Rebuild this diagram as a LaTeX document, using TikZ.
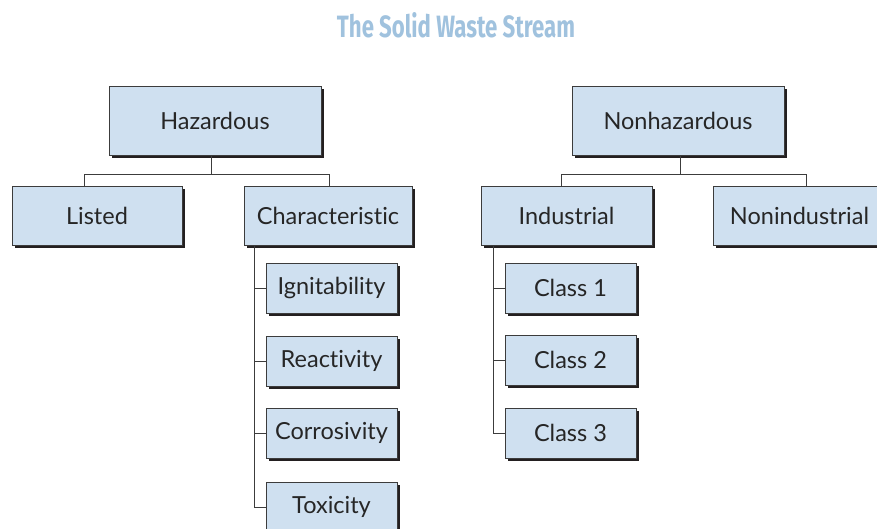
\documentclass[tikz,border=0pt]{standalone}
\usepackage{fontspec}
\usepackage{graphicx}
\setmainfont{Lato}[Ligatures=NoCommon]
\newfontfamily\titlefont{Fira Sans}
\usetikzlibrary{shadows}
\definecolor{boxfill}{RGB}{207,224,240}
\definecolor{titleblue}{RGB}{160,194,222}
\definecolor{shadowc}{RGB}{35,31,32}
\definecolor{linec}{RGB}{60,60,60}
\tikzset{
  box/.style={draw=linec, line width=0.7pt, fill=boxfill, inner sep=0pt,
    font=\fontsize{23.5}{28}\selectfont, text=black!85,
    drop shadow={shadow xshift=3pt, shadow yshift=-3pt, fill=shadowc, opacity=1}},
  bigbox/.style={box, minimum height=69pt},
  midbox/.style={box, minimum height=59pt},
  smallbox/.style={box, minimum width=131pt, minimum height=50pt},
  conn/.style={draw=linec, line width=0.8pt}
}
\begin{document}
\begin{tikzpicture}[x=1pt,y=1pt]
\clip (0,0) rectangle (877,-529);
\fill[white] (0,0) rectangle (877,-529);
\node[text=titleblue, anchor=base] (title) at (456,-38) {\resizebox{238pt}{25pt}{\titlefont\bfseries The Solid Waste Stream}};
% top level
\node[bigbox, minimum width=212pt] (haz) at (215,-120.5) {Hazardous};
\node[bigbox, minimum width=212pt] (nonhaz) at (678,-120.5) {Nonhazardous};
% second level
\node[midbox, minimum width=170pt] (listed) at (97,-215.5) {Listed};
\node[midbox, minimum width=168pt] (char) at (328,-215.5) {Characteristic};
\node[midbox, minimum width=171pt] (ind) at (566.5,-215.5) {Industrial};
\node[midbox, minimum width=186pt] (nonind) at (806,-215.5) {\hspace*{-13pt}Nonindustrial};
% characteristic children
\node[smallbox] (ign) at (331.5,-288) {Ignitability};
\node[smallbox] (rea) at (331.5,-361) {Reactivity};
\node[smallbox] (cor) at (331.5,-433) {Corrosivity};
\node[smallbox] (tox) at (331.5,-507) {Toxicity};
% industrial children
\node[smallbox] (c1) at (570.5,-288) {Class 1};
\node[smallbox] (c2) at (570.5,-360) {Class 2};
\node[smallbox] (c3) at (570.5,-433) {Class 3};
% connectors
\coordinate (hbar) at ([xshift=-4pt,yshift=-19pt]haz.south);
\draw[conn] ([xshift=-4pt]haz.south) -- (hbar);
\draw[conn] ([xshift=-13pt]listed.north) |- (hbar) -| ([xshift=1pt]char.north);
\coordinate (nbar) at ([xshift=2pt,yshift=-19pt]nonhaz.south);
\draw[conn] ([xshift=2pt]nonhaz.south) -- (nbar);
\draw[conn] ([xshift=-5.5pt]ind.north) |- (nbar) -| (nonind.north);
\coordinate (cv) at ([xshift=-74pt]char.south);
\draw[conn] (cv) |- (tox.west);
\draw[conn] (cv |- ign.west) -- (ign.west);
\draw[conn] (cv |- rea.west) -- (rea.west);
\draw[conn] (cv |- cor.west) -- (cor.west);
\coordinate (iv) at ([xshift=-73.5pt]ind.south);
\draw[conn] (iv) |- (c3.west);
\draw[conn] (iv |- c1.west) -- (c1.west);
\draw[conn] (iv |- c2.west) -- (c2.west);
\end{tikzpicture}
\end{document}
